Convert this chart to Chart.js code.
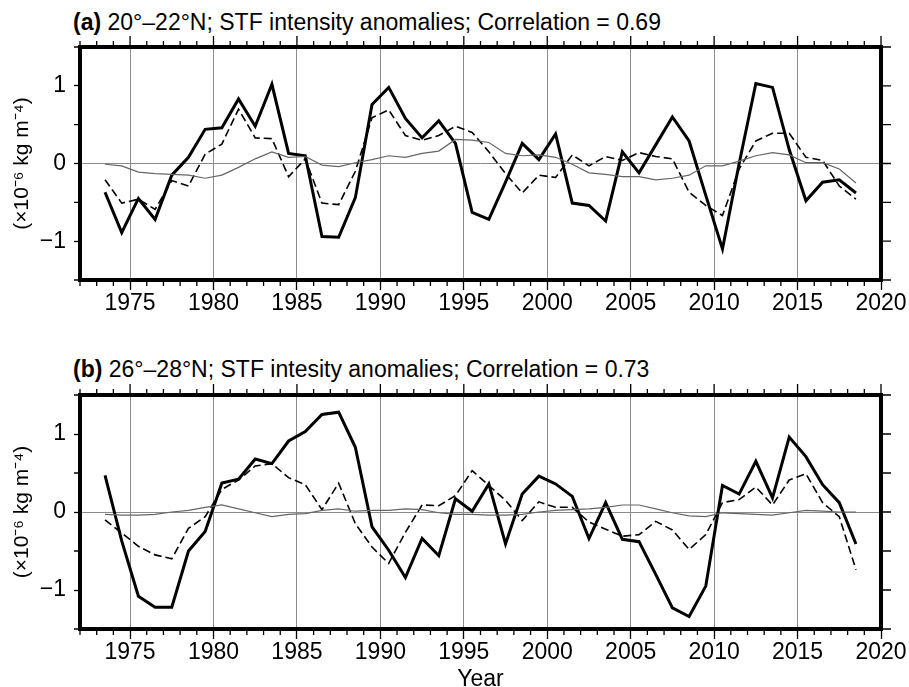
<!DOCTYPE html>
<html>
<head>
<meta charset="utf-8">
<script src="https://cdn.jsdelivr.net/npm/chart.js@4.4.1/dist/chart.umd.min.js"></script>
<style>
  html, body { margin: 0; padding: 0; background: #fff; }
  body { width: 909px; height: 687px; position: relative; overflow: hidden; font-family: "Liberation Sans", Arial, sans-serif; }
  canvas { position: absolute; left: 0; }
  .ptitle { position: absolute; left: 73px; font-size: 23px; line-height: 23px; white-space: nowrap; color: #000; }
</style>
</head>
<body>
<div class="ptitle" id="titleA" style="top:10.5px"></div>
<div class="ptitle" id="titleB" style="top:357.5px"></div>
<canvas id="chartA" width="909" height="330" style="top:0px;width:909px;height:330px"></canvas>
<canvas id="chartB" width="909" height="360" style="top:333px;width:909px;height:360px"></canvas>
<script>
// ---------- data ----------
const years = [1973.5,1974.5,1975.5,1976.5,1977.5,1978.5,1979.5,1980.5,1981.5,1982.5,1983.5,1984.5,1985.5,1986.5,1987.5,
  1988.5,1989.5,1990.5,1991.5,1992.5,1993.5,1994.5,1995.5,1996.5,1997.5,1998.5,1999.5,2000.5,2001.5,2002.5,2003.5,2004.5,
  2005.5,2006.5,2007.5,2008.5,2009.5,2010.5,2011.5,2012.5,2013.5,2014.5,2015.5,2016.5,2017.5,2018.5];

const thickA = [-0.37,-0.89,-0.45,-0.72,-0.15,0.08,0.44,0.46,0.83,0.48,1.02,0.13,0.10,-0.94,-0.95,
  -0.44,0.76,0.98,0.58,0.33,0.55,0.26,-0.63,-0.72,-0.24,0.26,0.05,0.38,-0.51,-0.54,-0.74,0.15,
  -0.12,0.24,0.60,0.29,-0.41,-1.10,0.00,1.03,0.98,0.18,-0.48,-0.24,-0.21,-0.38];
const dashedA = [-0.21,-0.51,-0.46,-0.59,-0.22,-0.29,0.12,0.25,0.70,0.33,0.32,-0.17,0.06,-0.51,-0.53,
  -0.10,0.59,0.69,0.36,0.30,0.36,0.48,0.40,0.15,-0.13,-0.38,-0.15,-0.18,0.11,-0.03,0.09,0.04,
  0.14,0.09,0.06,-0.37,-0.54,-0.67,-0.07,0.29,0.39,0.39,0.08,0.04,-0.29,-0.46];
const thinA = [-0.01,-0.03,-0.11,-0.13,-0.14,-0.15,-0.19,-0.15,-0.05,0.06,0.15,0.08,0.09,-0.02,-0.04,
  0.01,0.05,0.10,0.08,0.13,0.16,0.31,0.30,0.27,0.13,0.10,0.11,0.08,-0.01,-0.12,-0.14,-0.17,
  -0.17,-0.21,-0.19,-0.15,-0.03,-0.03,0.03,0.10,0.14,0.11,0.01,0.01,-0.07,-0.25];

const thickB = [0.47,-0.37,-1.08,-1.22,-1.22,-0.50,-0.25,0.37,0.42,0.68,0.62,0.91,1.03,1.25,1.28,
  0.83,-0.19,-0.49,-0.84,-0.34,-0.56,0.17,0.01,0.36,-0.41,0.23,0.46,0.36,0.20,-0.34,0.12,-0.35,
  -0.38,-0.80,-1.23,-1.34,-0.95,0.34,0.23,0.65,0.18,0.96,0.71,0.35,0.12,-0.41];
const dashedB = [-0.10,-0.27,-0.44,-0.55,-0.60,-0.21,-0.06,0.29,0.41,0.59,0.62,0.44,0.35,0.03,0.37,
  -0.15,-0.45,-0.66,-0.26,0.09,0.08,0.21,0.53,0.34,0.15,-0.11,0.13,0.06,0.06,-0.13,-0.22,-0.31,
  -0.29,-0.12,-0.23,-0.48,-0.29,0.12,0.16,0.32,0.09,0.41,0.49,0.12,-0.06,-0.74];
const thinB = [-0.03,-0.04,-0.04,-0.03,0.00,0.02,0.06,0.09,0.04,-0.01,-0.06,-0.03,-0.02,0.02,0.04,
  0.01,0.02,0.02,0.04,0.03,-0.01,-0.03,-0.03,-0.04,-0.04,-0.03,0.00,0.02,0.03,0.04,0.06,0.09,
  0.09,0.04,-0.01,-0.05,-0.06,-0.01,-0.02,-0.03,-0.04,-0.01,0.02,0.01,0.00,0.00];

const xTickLabels = [1975,1980,1985,1990,1995,2000,2005,2010,2015,2020];
const yTickLabels = [-1,0,1];
const yMinorTicks = [-1.5,-1,-0.5,0,0.5,1,1.5];
const titleA = ["(a)", " 20°–22°N; STF intensity anomalies; Correlation = 0.69"];
const titleB = ["(b)", " 26°–28°N; STF intesity anomalies; Correlation = 0.73"];
const yTitle = "(×10⁻⁶ kg m⁻⁴)";
const xTitle = "Year";

// ---------- titles ----------
function setTitle(id, parts) {
  const el = document.getElementById(id);
  const b = document.createElement('b'); b.textContent = parts[0];
  el.appendChild(b); el.appendChild(document.createTextNode(parts[1]));
}
setTitle('titleA', titleA);
setTitle('titleB', titleB);

// ---------- helpers ----------
const FONT = "'Liberation Sans', Arial, sans-serif";
const frameTicks = {
  id: 'frameTicks',
  afterDraw(chart) {
    const {ctx, chartArea: a} = chart;
    const x = chart.scales.x, y = chart.scales.y;
    ctx.save();
    ctx.strokeStyle = '#000';
    ctx.lineWidth = 1.3;
    ctx.beginPath();
    for (let yr = 1972; yr <= 2020; yr++) {
      const px = x.getPixelForValue(yr);
      const major = yr % 5 === 0;
      ctx.moveTo(px, a.top); ctx.lineTo(px, a.top - (major ? 11 : 6));
      if (!major) { ctx.moveTo(px, a.bottom); ctx.lineTo(px, a.bottom + 6); }
    }
    for (const v of yMinorTicks) {
      const py = y.getPixelForValue(v);
      ctx.moveTo(a.right, py); ctx.lineTo(a.right + 10, py);
      if (!Number.isInteger(v)) { ctx.moveTo(a.left, py); ctx.lineTo(a.left - 6, py); }
    }
    ctx.stroke();
    ctx.lineWidth = 4;
    ctx.strokeRect(a.left, a.top, a.right - a.left, a.bottom - a.top);
    ctx.restore();
  }
};

function makePanel(id, thick, dashed, thin, padTop, xHeight, showXTitle) {
  const pts = arr => years.map((yr, i) => ({x: yr, y: arr[i]}));
  return new Chart(document.getElementById(id), {
    type: 'line',
    data: {
      datasets: [
        {data: pts(thin), borderColor: '#666', borderWidth: 1.2, pointRadius: 0, tension: 0},
        {data: pts(dashed), borderColor: '#000', borderWidth: 1.6, borderDash: [8, 4], pointRadius: 0, tension: 0},
        {data: pts(thick), borderColor: '#000', borderWidth: 3, pointRadius: 0, tension: 0}
      ]
    },
    options: {
      responsive: false,
      devicePixelRatio: 1,
      animation: false,
      layout: {padding: {top: padTop, right: 28, left: 0, bottom: 0}},
      plugins: {legend: {display: false}, tooltip: {enabled: false}, title: {display: false}},
      scales: {
        x: {
          type: 'linear', min: 1972, max: 2020,
          afterBuildTicks: s => { s.ticks = xTickLabels.map(v => ({value: v})); },
          afterFit: s => { s.height = xHeight; },
          ticks: {color: '#000', font: {family: FONT, size: 23}, padding: 0, maxRotation: 0, autoSkip: false,
                  callback: v => String(v)},
          grid: {color: c => (c.tick && c.tick.value === 2020) ? 'rgba(0,0,0,0)' : '#8c8c8c', lineWidth: 1,
                 tickColor: '#000', tickLength: 10, tickWidth: 1.3},
          border: {display: false},
          title: {display: showXTitle, text: xTitle, color: '#000', font: {family: FONT, size: 23}, padding: {top: 0, bottom: 0}}
        },
        y: {
          min: -1.5, max: 1.5,
          afterBuildTicks: s => { s.ticks = yTickLabels.map(v => ({value: v})); },
          afterFit: s => { s.width = 80; },
          ticks: {color: '#000', font: {family: FONT, size: 23}, padding: 8,
                  callback: v => v < 0 ? '\u2212' + Math.abs(v) : String(v)},
          grid: {color: c => (c.tick && c.tick.value === 0) ? '#8c8c8c' : 'rgba(0,0,0,0)', lineWidth: 1,
                 tickColor: '#000', tickLength: 6, tickWidth: 1.3},
          border: {display: false},
          title: {display: true, text: yTitle, color: '#000', font: {family: FONT, size: 21}, padding: {top: 10, bottom: 0}}
        }
      }
    },
    plugins: [frameTicks]
  });
}

makePanel('chartA', thickA, dashedA, thinA, 47, 50, false);
makePanel('chartB', thickB, dashedB, thinB, 62, 64, true);
</script>
</body>
</html>
